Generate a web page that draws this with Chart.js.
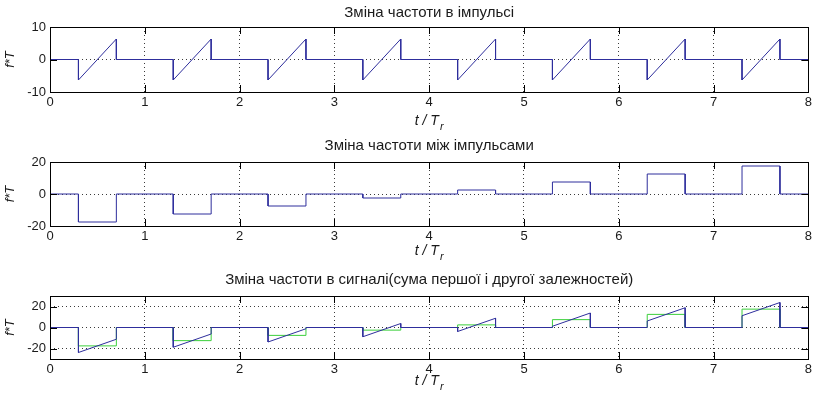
<!DOCTYPE html>
<html>
<head>
<meta charset="utf-8">
<script src="https://cdn.jsdelivr.net/npm/chart.js@4.4.0/dist/chart.umd.min.js"></script>
<style>
  html, body { margin: 0; padding: 0; background: #ffffff; }
  body { width: 815px; height: 404px; position: relative; overflow: hidden; }
  .box { position: absolute; left: 0; width: 815px; }
</style>
</head>
<body>
<div class="box" id="b1" style="top:0px;height:130px"><canvas id="c1"></canvas></div>
<div class="box" id="b2" style="top:130px;height:135px"><canvas id="c2"></canvas></div>
<div class="box" id="b3" style="top:265px;height:139px"><canvas id="c3"></canvas></div>
<script>
// ---------- data ----------
const xTicks = [0, 1, 2, 3, 4, 5, 6, 7, 8];
const pulseStart = [0.3, 1.3, 2.3, 3.3, 4.3, 5.3, 6.3, 7.3];
const pulseEnd   = [0.7, 1.7, 2.7, 3.7, 4.7, 5.7, 6.7, 7.7];

// plot 1: frequency change inside the pulse (sawtooth)
const chirpLow  = [-6.3, -6.3, -6.3, -6.3, -6.3, -6.3, -6.3, -6.3];
const chirpHigh = [ 6.3,  6.3,  6.3,  6.3,  6.3,  6.3,  6.3,  6.3];
const yTicks1 = [-10, 0, 10];

// plot 2: frequency change between pulses (steps)
const stepLevel = [-17.5, -12.5, -7.5, -2.5, 2.5, 7.5, 12.5, 17.5];
const yTicks2 = [-20, 0, 20];

// plot 3: sum of both
const sumLow  = [-23.8, -18.8, -13.8, -8.8, -3.8, 1.2, 6.2, 11.2];
const sumHigh = [-11.2, -6.2, -1.2, 3.8, 8.8, 13.8, 18.8, 23.8];
const yTicks3 = [-20, 0, 20];

const titles = [
  'Зміна частоти в імпульсі',
  'Зміна частоти між імпульсами',
  'Зміна частоти в сигналі(сума першої і другої залежностей)'
];
const yLabel = 'f*T';
const xLabelMain = 't / T';
const xLabelSub = 'r';

// ---------- helpers ----------
function pulseTrain(low, high) {
  const pts = [{x: xTicks[0], y: 0}];
  for (let i = 0; i < pulseStart.length; i++) {
    pts.push({x: pulseStart[i], y: 0});
    pts.push({x: pulseStart[i], y: low[i]});
    pts.push({x: pulseEnd[i], y: high[i]});
    pts.push({x: pulseEnd[i], y: 0});
  }
  pts.push({x: xTicks[xTicks.length - 1], y: 0});
  return pts;
}

const BLUE = '#2e2e9c';
const GREEN = '#3ccf3c';
const FONT = "'Liberation Sans', Arial, sans-serif";
const TEXT = '#1a1a1a';
const TICKLEN = 7;

const framePlugin = {
  id: 'matlabFrame',
  afterDatasetsDraw(chart, args, opts) {
    const ctx = chart.ctx, a = chart.chartArea;
    const xs = chart.scales.x, ys = chart.scales.y;
    ctx.save();
    ctx.strokeStyle = '#000';
    ctx.lineWidth = 1;
    ctx.setLineDash([]);
    ctx.beginPath();
    xs.ticks.forEach(t => {
      if (t.value <= xs.min || t.value >= xs.max) return;
      const px = Math.round(xs.getPixelForValue(t.value)) + 0.5;
      ctx.moveTo(px, a.bottom); ctx.lineTo(px, a.bottom - TICKLEN);
      ctx.moveTo(px, a.top); ctx.lineTo(px, a.top + TICKLEN);
    });
    ys.ticks.forEach(t => {
      if (t.value <= ys.min || t.value >= ys.max) return;
      const py = Math.round(ys.getPixelForValue(t.value)) + 0.5;
      ctx.moveTo(a.left, py); ctx.lineTo(a.left + TICKLEN, py);
      ctx.moveTo(a.right, py); ctx.lineTo(a.right - TICKLEN, py);
    });
    ctx.stroke();
    ctx.strokeRect(Math.round(a.left) + 0.5, Math.round(a.top) + 0.5,
                   Math.round(a.right - a.left), Math.round(a.bottom - a.top));
    // x axis label with subscript
    ctx.fillStyle = TEXT;
    ctx.font = 'italic 14px ' + FONT;
    const wMain = ctx.measureText(xLabelMain).width;
    ctx.font = 'italic 11px ' + FONT;
    const wSub = ctx.measureText(xLabelSub).width;
    const cx = (a.left + a.right) / 2;
    const x0 = cx - (wMain + wSub + 1) / 2;
    const ty = a.bottom + opts.titleOffset;
    ctx.textBaseline = 'middle';
    ctx.textAlign = 'left';
    ctx.font = 'italic 14px ' + FONT;
    ctx.fillText(xLabelMain, x0, ty);
    ctx.font = 'italic 11px ' + FONT;
    ctx.fillText(xLabelSub, x0 + wMain + 1, ty + 6);
    ctx.restore();
  }
};

function makeChart(id, datasets, yMin, yMax, yTicks, title, titlePad, xAxisHeight, titleOffset) {
  return new Chart(document.getElementById(id), {
    type: 'line',
    data: { datasets },
    options: {
      responsive: true,
      maintainAspectRatio: false,
      animation: false,
      layout: { padding: { left: 0, right: 4, top: 0, bottom: 0 } },
      elements: { point: { radius: 0 }, line: { tension: 0, borderWidth: 1 } },
      plugins: {
        legend: { display: false },
        tooltip: { enabled: false },
        title: {
          display: true, text: title, fullSize: false,
          color: TEXT, font: { family: FONT, size: 15, weight: 'normal' },
          padding: titlePad
        },
        matlabFrame: { titleOffset }
      },
      scales: {
        x: {
          type: 'linear', min: xTicks[0], max: xTicks[xTicks.length - 1],
          afterBuildTicks: s => { s.ticks = xTicks.map(v => ({ value: v })); },
          afterFit: s => { s.height = xAxisHeight; },
          border: { display: false, dash: [1, 3] },
          grid: { color: '#3a3a3a', drawTicks: false, lineWidth: 1 },
          ticks: { color: TEXT, font: { family: FONT, size: 13 }, padding: 3, maxRotation: 0 }
        },
        y: {
          type: 'linear', min: yMin, max: yMax,
          afterBuildTicks: s => { s.ticks = yTicks.map(v => ({ value: v })); },
          afterFit: s => { s.width = 50; },
          border: { display: false, dash: [1, 3] },
          grid: { color: '#3a3a3a', drawTicks: false, lineWidth: 1 },
          ticks: { color: TEXT, font: { family: FONT, size: 13 }, padding: 4 },
          title: { display: true, text: yLabel, color: TEXT,
                   font: { family: FONT, size: 13, style: 'italic' }, padding: { top: 3, bottom: 0 } }
        }
      }
    },
    plugins: [framePlugin]
  });
}

makeChart('c1',
  [{ data: pulseTrain(chirpLow, chirpHigh), borderColor: BLUE }],
  -10, 10, yTicks1, titles[0], { top: 3.5, bottom: 5.5 }, 38, 29);

makeChart('c2',
  [{ data: pulseTrain(stepLevel, stepLevel), borderColor: BLUE }],
  -20, 20, yTicks2, titles[1], { top: 7, bottom: 7 }, 39, 25);

makeChart('c3',
  [{ data: pulseTrain(sumLow, sumHigh), borderColor: BLUE },
   { data: pulseTrain(stepLevel, stepLevel), borderColor: GREEN }],
  -30, 30, yTicks3, titles[2], { top: 6, bottom: 7 }, 45, 22);
</script>
</body>
</html>
